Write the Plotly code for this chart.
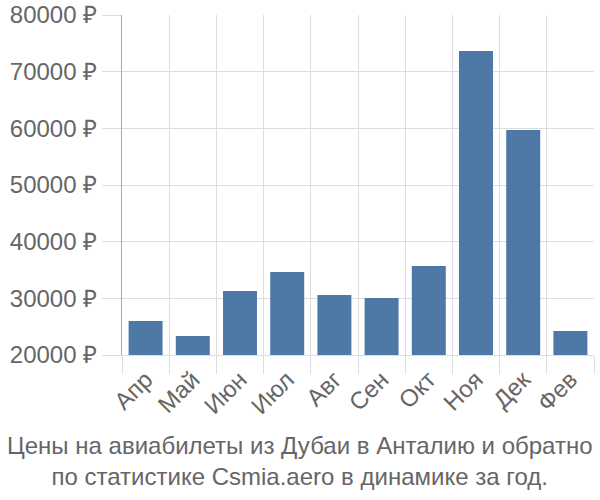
import plotly.graph_objects as go

months = ["Апр", "Май", "Июн", "Июл", "Авг", "Сен", "Окт", "Ноя", "Дек", "Фев"]
prices = [26000, 23350, 31300, 34650, 30600, 30050, 35700, 73650, 59700, 24250]
y_ticks = [20000, 30000, 40000, 50000, 60000, 70000, 80000]
title_text = "Цены на авиабилеты из Дубаи в Анталию и обратно<br>по статистике Csmia.aero в динамике за год."

fig = go.Figure(go.Bar(
    x=months, y=prices,
    marker=dict(color="#4e79a7", line=dict(width=0)),
    hoverinfo="skip",
))

font_family = "Liberation Sans, Arial, sans-serif"
fs = 24
fig.update_layout(
    width=600, height=500,
    margin=dict(l=122, r=6, t=15, b=145, autoexpand=False),
    plot_bgcolor="white", paper_bgcolor="white",
    bargap=0.28,
    showlegend=False,
    font=dict(family=font_family, color="#666666", size=fs),
    xaxis=dict(
        automargin=False,
        tickson="boundaries", showgrid=True, gridcolor="#dddddd", gridwidth=1,
        ticks="outside", ticklen=18, tickcolor="#dddddd", tickwidth=1,
        tickangle=-45, tickfont=dict(size=fs, color="#666666"),
        showline=True, linecolor="#dddddd", linewidth=1,
    ),
    yaxis=dict(
        automargin=False,
        range=[20000, 80000], tickvals=y_ticks,
        ticktext=[f"{v} ₽" for v in y_ticks],
        showgrid=True, gridcolor="#dddddd", gridwidth=1,
        ticks="outside", ticklen=19, tickcolor="#dddddd", tickwidth=1,
        tickfont=dict(size=fs, color="#666666"),
        showline=True, linecolor="#aaaaaa", linewidth=1,
        zeroline=False,
    ),
    annotations=[dict(
        text=title_text, xref="paper", yref="paper",
        x=(300 - 122) / 472, y=(355 - 430) / 340,
        xanchor="center", yanchor="top", showarrow=False,
        font=dict(size=fs, color="#666666", family=font_family),
    )],
)

fig.write_html("out.html", config={"displayModeBar": False},
               post_script="document.body.style.margin='0';")
